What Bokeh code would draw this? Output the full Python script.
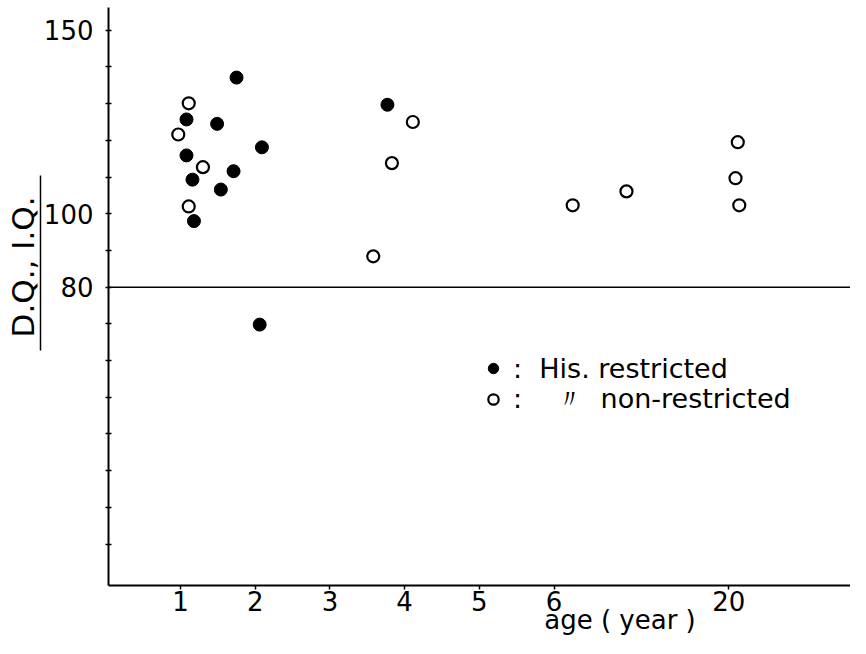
from bokeh.plotting import figure
from bokeh.models import (Range1d, LinearAxis, FixedTicker, Span, Legend, LegendItem,
                          ColumnDataSource)
from bokeh.embed import file_html
from bokeh.resources import INLINE

# ---- data (x = position on the broken age axis, y = D.Q./I.Q.) ----
restricted_age_pos = [1.75, 1.08, 1.49, 2.09, 1.08, 1.71, 1.16, 1.54, 1.18, 2.06, 3.77]
restricted_dq = [137.1, 125.7, 124.5, 118.1, 115.9, 111.6, 109.3, 106.6, 98.0, 69.8, 129.7]

nonrestricted_age_pos = [1.11, 0.97, 1.30, 1.11, 4.11, 3.83, 3.58, 6.25, 6.97, 8.46, 8.43, 8.48]
nonrestricted_dq = [130.1, 121.6, 112.7, 102.0, 125.0, 113.8, 88.4, 102.3, 106.1, 119.5, 109.7, 102.3]

x_tick_pos = [1, 2, 3, 4, 5, 6, 8.34]
x_tick_labels = ["1", "2", "3", "4", "5", "6", "20"]
y_ticks = list(range(10, 151, 10))
y_tick_labels = {150: "150", 100: "100", 80: "80"}
threshold = 80

FONT = "DejaVu Sans"
NB = "\u00a0"

p = figure(width=850, height=638, output_backend="svg", toolbar_location=None,
           x_range=Range1d(0.036, 9.969), y_range=Range1d(-1.28, 156.2),
           min_border_left=108, min_border_right=0, min_border_top=7,
           min_border_bottom=53, x_axis_type=None, y_axis_type=None)
p.outline_line_color = None
p.xgrid.visible = False
p.ygrid.visible = False
p.background_fill_color = "white"
p.border_fill_color = "white"

# main y axis
yax = LinearAxis(ticker=FixedTicker(ticks=y_ticks))
yax.major_label_overrides = {t: y_tick_labels.get(t, "") for t in y_ticks}
yax.major_label_text_font = FONT
yax.major_label_text_font_size = "26px"
yax.major_label_text_color = "black"
yax.major_label_standoff = 12
yax.axis_line_width = 2
yax.axis_line_color = "black"
yax.major_tick_in = 3
yax.major_tick_out = 3
yax.major_tick_line_width = 1.5
yax.minor_tick_line_color = None
p.add_layout(yax, "left")

# y title with its underline (bounded axis line)
yund = LinearAxis(ticker=FixedTicker(ticks=[]), bounds=(62.8, 110.4))
yund.axis_label = NB * 6 + "D.Q., I.Q."
yund.axis_label_text_font = FONT
yund.axis_label_text_font_size = "31px"
yund.axis_label_text_font_style = "normal"
yund.axis_label_text_color = "black"
yund.axis_label_standoff = 0
yund.major_label_text_font_size = "0px"
yund.major_tick_line_color = None
yund.minor_tick_line_color = None
yund.axis_line_width = 1.5
yund.axis_line_color = "black"
p.add_layout(yund, "left")

# main x axis with its title
xax = LinearAxis(ticker=FixedTicker(ticks=x_tick_pos))
xax.major_label_overrides = dict(zip(x_tick_pos, x_tick_labels))
xax.major_label_text_font = FONT
xax.major_label_text_font_size = "26px"
xax.major_label_text_color = "black"
xax.major_label_standoff = 1
xax.axis_line_width = 2
xax.axis_line_color = "black"
xax.major_tick_in = 0
xax.major_tick_out = 4
xax.major_tick_line_width = 1.5
xax.minor_tick_line_color = None
xax.axis_label = NB * 34 + "age ( year )"
xax.axis_label_text_font = FONT
xax.axis_label_text_font_size = "26px"
xax.axis_label_text_font_style = "normal"
xax.axis_label_text_color = "black"
xax.axis_label_standoff = -9
p.add_layout(xax, "below")

# threshold line
p.add_layout(Span(location=threshold, dimension="width", line_color="black", line_width=1.6))

src_r = ColumnDataSource(dict(x=restricted_age_pos, y=restricted_dq))
src_n = ColumnDataSource(dict(x=nonrestricted_age_pos, y=nonrestricted_dq))
r1 = p.scatter("x", "y", source=src_r, size=13, marker="circle",
               fill_color="black", line_color="black", line_width=1)
r2 = p.scatter("x", "y", source=src_n, size=12, marker="circle",
               fill_color="white", line_color="black", line_width=2.2)


def style_legend(lg):
    lg.label_text_font = FONT
    lg.label_text_font_size = "27px"
    lg.label_text_color = "black"
    lg.glyph_width = 26
    lg.glyph_height = 36
    lg.label_standoff = 7
    lg.label_height = 36
    lg.spacing = 0
    lg.padding = 0
    lg.margin = 0
    lg.border_line_color = None
    lg.background_fill_alpha = 0
    p.add_layout(lg, "center")


style_legend(Legend(items=[
    LegendItem(label=":" + NB * 2 + "His. restricted", renderers=[r1])], location=(372, 199)))
style_legend(Legend(items=[
    LegendItem(label=":" + NB * 4 + "\u3003" + NB * 2 + "non-restricted", renderers=[r2])],
    location=(372, 168)))

open("out.html", "w").write(file_html(p, INLINE))
